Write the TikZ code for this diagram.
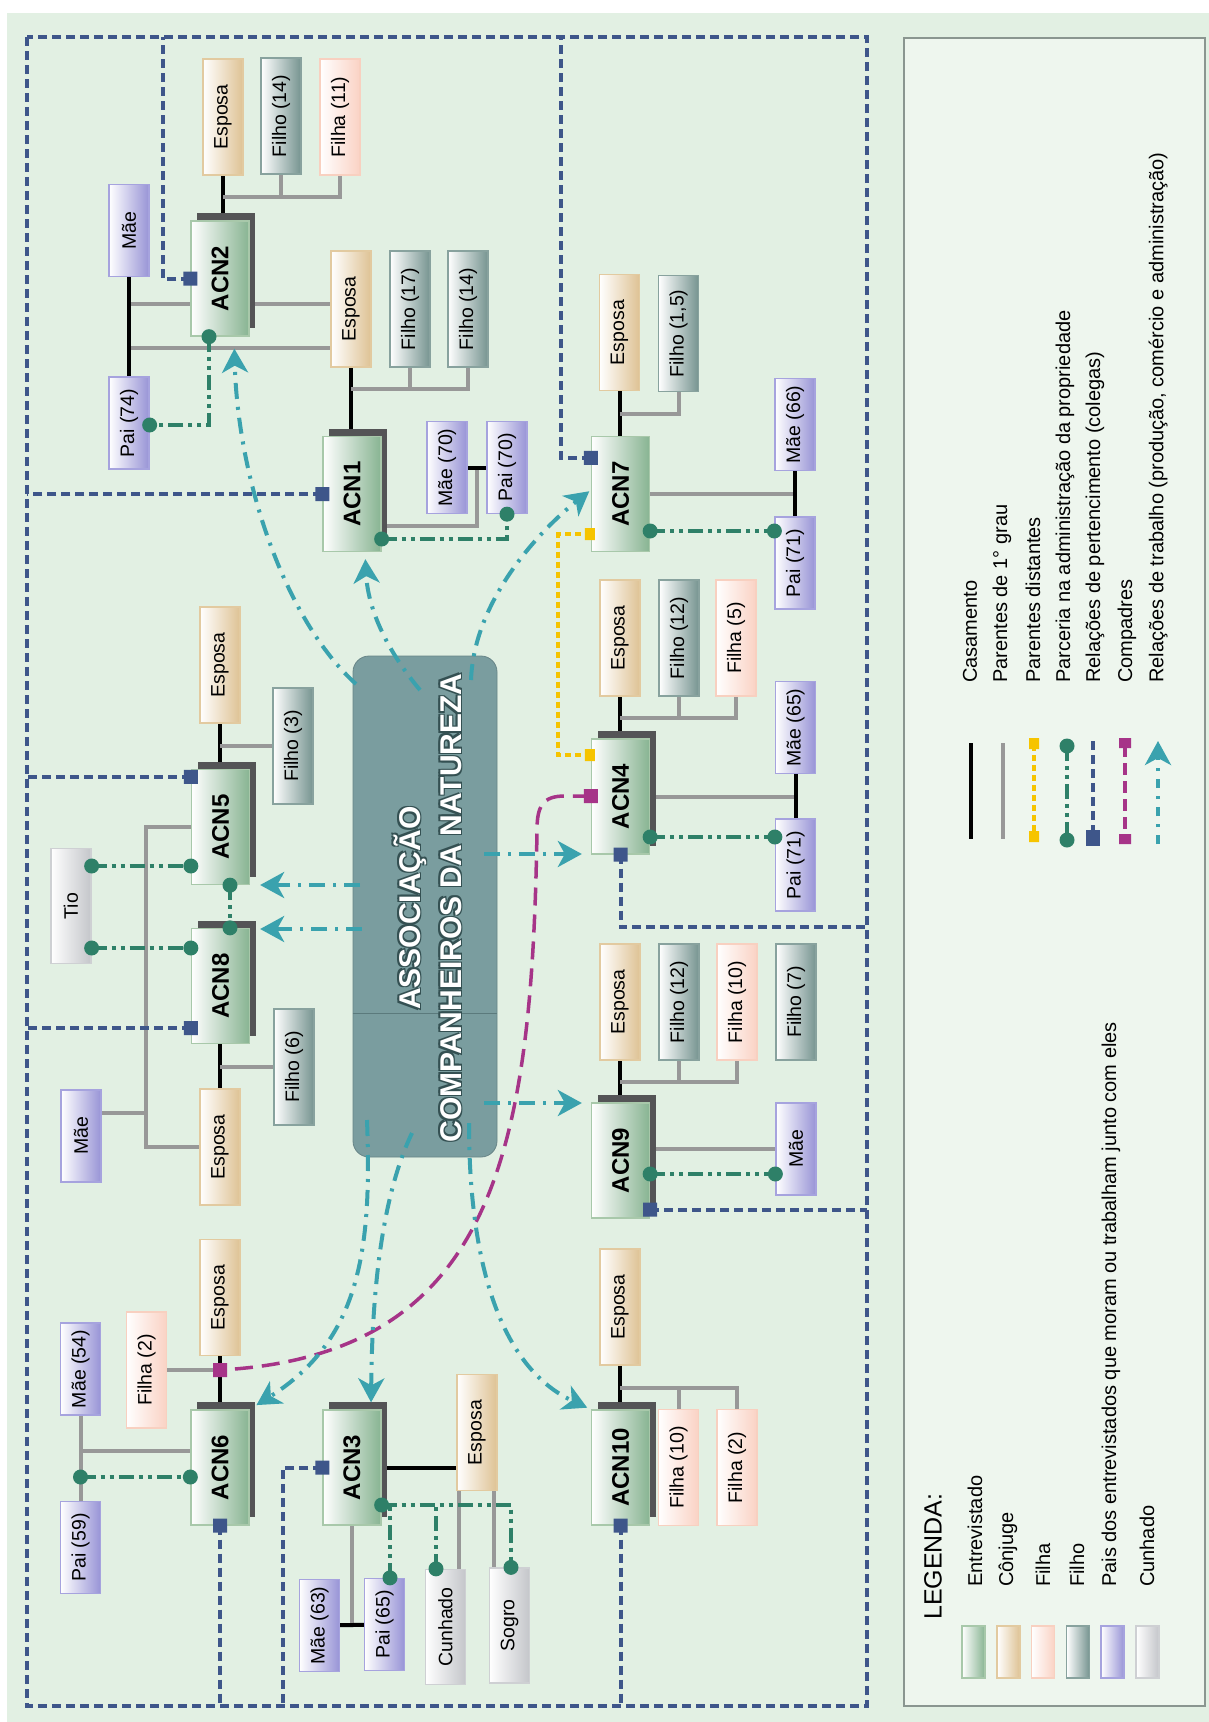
\documentclass[tikz,border=0pt]{standalone}
\usepackage{graphicx}
\usepackage{fontspec}
\setmainfont{Liberation Sans}
\usetikzlibrary{shadows,calc,arrows.meta}

\definecolor{cBg}{RGB}{226,240,227}
\definecolor{cLegBg}{RGB}{238,246,238}
\definecolor{cLegEdge}{RGB}{138,150,144}
\definecolor{cNavy}{RGB}{62,86,138}
\definecolor{cParc}{RGB}{46,128,104}
\definecolor{cWork}{RGB}{58,162,174}
\definecolor{cDist}{RGB}{246,196,0}
\definecolor{cComp}{RGB}{166,52,136}
\definecolor{cGrau}{RGB}{152,152,152}
\definecolor{cAssoc}{RGB}{122,157,159}
\definecolor{cAssocDark}{RGB}{52,80,82}
\definecolor{cShd}{RGB}{84,84,86}
\definecolor{cAcn}{RGB}{136,180,146}
\definecolor{cAcnE}{RGB}{168,200,170}
\definecolor{cConj}{RGB}{222,194,148}
\definecolor{cConjE}{RGB}{226,202,160}
\definecolor{cFilha}{RGB}{250,210,196}
\definecolor{cFilhaE}{RGB}{248,208,192}
\definecolor{cFilho}{RGB}{118,148,144}
\definecolor{cFilhoE}{RGB}{136,162,158}
\definecolor{cPais}{RGB}{152,148,214}
\definecolor{cPaisE}{RGB}{166,163,222}
\definecolor{cCunh}{RGB}{196,198,202}
\definecolor{cCunhE}{RGB}{206,208,211}

\pgfdeclarelayer{back}
\pgfdeclarelayer{lines}
\pgfsetlayers{back,lines,main}

\newcommand\vtext[1]{\rotatebox{90}{#1}}
\newcommand\assoclabel{ASSOCIAÇÃO\\COMPANHEIROS DA NATUREZA}

\tikzset{
  boxbase/.style={draw, line width=1.3pt, inner sep=0pt, minimum width=40pt,
    minimum height=116pt, font=\fontsize{19.5}{22}\selectfont},
  acnflat/.style={boxbase, minimum width=58pt, minimum height=115pt, left color=white,
    right color=cAcn, draw=cAcnE, font=\bfseries\fontsize{24}{28}\selectfont},
  acnbox/.style={acnflat, drop shadow={shadow xshift=6pt, shadow yshift=8pt, fill=cShd, opacity=1}},
  conjbox/.style={boxbase, left color=white, right color=cConj, draw=cConjE},
  filhabox/.style={boxbase, left color=white, right color=cFilha, draw=cFilhaE},
  filhobox/.style={boxbase, left color=white, right color=cFilho, draw=cFilhoE},
  paisbox/.style={boxbase, minimum height=92pt, left color=white, right color=cPais, draw=cPaisE},
  cunhbox/.style={boxbase, minimum height=115pt, left color=white, right color=cCunh, draw=cCunhE},
  swatch/.style={draw, line width=1.3pt, inner sep=0pt, minimum width=23pt, minimum height=52pt},
  legtext/.style={anchor=south, inner sep=0pt, font=\fontsize{20}{24}\selectfont},
  assocbox/.style={fill=cAssoc, draw=cAssoc!85!black, line width=0.8pt, rounded corners=16pt,
    minimum width=144pt, minimum height=501pt},
  assoctext/.style={rotate=90, align=center, inner sep=0pt, font=\bfseries\fontsize{30}{41}\selectfont},
  lcasam/.style={black, line width=4pt},
  lgrau/.style={cGrau, line width=4pt},
  ldist/.style={cDist, line width=4pt, dash pattern=on 6pt off 4pt},
  lparc/.style={cParc, line width=4pt, dash pattern=on 15pt off 5pt on 4pt off 5pt on 4pt off 5pt},
  lpert/.style={cNavy, line width=4pt, dash pattern=on 9pt off 5pt},
  lcomp/.style={cComp, line width=3.5pt, dash pattern=on 18pt off 9pt},
  ltrab/.style={cWork, line width=4pt, dash pattern=on 16pt off 8pt on 3pt off 8pt,
    -{Stealth[length=24pt,width=26pt,inset=7pt]}},
}

\begin{document}
\begin{tikzpicture}[x=1pt,y=-1pt]
  \useasboundingbox (0,0) rectangle (1209,1722);
  \def\dotr{7.5pt}
  \def\sqh{7pt}

% background and legend frame
  \begin{pgfonlayer}{back}
    \fill[cBg] (7,13) rectangle (1209,1722);
    \draw[fill=cLegBg, draw=cLegEdge, line width=2pt] (904,38) rectangle (1205,1706);
  \end{pgfonlayer}

% association in the middle
  \node[assocbox] (assoc) at (425,906.5) {};
  \draw[cAssocDark!45!cAssoc, line width=1pt] (assoc.west |- 0,1013) -- (assoc.east |- 0,1013);
  \node[assoctext, text=cAssocDark] (assocsa) at (429,909.5) {\assoclabel};
  \node[assoctext, text=cAssocDark] (assocsb) at (426,909.5) {\assoclabel};
  \node[assoctext, text=cAssocDark] (assocsc) at (429,906.5) {\assoclabel};
  \node[assoctext, text=cAssocDark] (assocsd) at (426,906.5) {\assoclabel};
  \node[assoctext, text=white] (assoctx) at (427.5,908) {\assoclabel};

% interviewees
  \node[acnbox] (acn2) at (220,278.5) {\vtext{ACN2}};
  \node[acnbox] (acn1) at (352,494) {\vtext{ACN1}};
  \node[acnflat] (acn7) at (620.5,494) {\vtext{ACN7}};
  \node[acnbox] (acn5) at (220.5,827) {\vtext{ACN5}};
  \node[acnbox] (acn8) at (220.5,986) {\vtext{ACN8}};
  \node[acnbox] (acn4) at (620.5,796.5) {\vtext{ACN4}};
  \node[acnbox] (acn9) at (620.5,1160.5) {\vtext{ACN9}};
  \node[acnbox] (acn6) at (220,1467.5) {\vtext{ACN6}};
  \node[acnbox] (acn3) at (352,1467.5) {\vtext{ACN3}};
  \node[acnbox] (acn10) at (620.5,1467.5) {\vtext{ACN10}};

% spouses
  \node[conjbox] (esp2) at (223,117) {\vtext{Esposa}};
  \node[conjbox] (esp1) at (351,309) {\vtext{Esposa}};
  \node[conjbox] (esp7) at (619.5,332.5) {\vtext{Esposa}};
  \node[conjbox] (esp5) at (220,665) {\vtext{Esposa}};
  \node[conjbox] (esp8) at (220,1147) {\vtext{Esposa}};
  \node[conjbox] (esp4) at (620,638) {\vtext{Esposa}};
  \node[conjbox] (esp9) at (620,1002) {\vtext{Esposa}};
  \node[conjbox] (esp6) at (220,1297.5) {\vtext{Esposa}};
  \node[conjbox] (esp3) at (477,1432.5) {\vtext{Esposa}};
  \node[conjbox] (esp10) at (620,1307) {\vtext{Esposa}};

% children
  \node[filhobox] (fho2) at (281,116) {\vtext{Filho (14)}};
  \node[filhabox] (fha2) at (340,117) {\vtext{Filha (11)}};
  \node[filhobox] (fho1a) at (410,309) {\vtext{Filho (17)}};
  \node[filhobox] (fho1b) at (468,309) {\vtext{Filho (14)}};
  \node[filhobox] (fho7) at (678.5,333.5) {\vtext{Filho (1,5)}};
  \node[filhobox] (fho5) at (293,746) {\vtext{Filho (3)}};
  \node[filhobox] (fho8) at (294,1067) {\vtext{Filho (6)}};
  \node[filhobox] (fho4) at (679,638) {\vtext{Filho (12)}};
  \node[filhabox] (fha4) at (736,638) {\vtext{Filha (5)}};
  \node[filhobox] (fho9a) at (679,1002) {\vtext{Filho (12)}};
  \node[filhabox] (fha9) at (737,1002) {\vtext{Filha (10)}};
  \node[filhobox] (fho9b) at (796,1002) {\vtext{Filho (7)}};
  \node[filhabox] (fha6) at (146.5,1370) {\vtext{Filha (2)}};
  \node[filhabox] (fha10a) at (678.5,1467.5) {\vtext{Filha (10)}};
  \node[filhabox] (fha10b) at (737,1467.5) {\vtext{Filha (2)}};

% parents
  \node[paisbox] (mae2) at (129,230.5) {\vtext{Mãe}};
  \node[paisbox] (pai2) at (129,423) {\vtext{Pai (74)}};
  \node[paisbox] (mae1) at (447,467.5) {\vtext{Mãe (70)}};
  \node[paisbox] (pai1) at (507,467.5) {\vtext{Pai (70)}};
  \node[paisbox] (mae7) at (795,424.5) {\vtext{Mãe (66)}};
  \node[paisbox] (pai7) at (795,563) {\vtext{Pai (71)}};
  \node[paisbox] (mae4) at (795.5,727.5) {\vtext{Mãe (65)}};
  \node[paisbox] (pai4) at (795.5,865) {\vtext{Pai (71)}};
  \node[paisbox] (mae8) at (81,1136) {\vtext{Mãe}};
  \node[paisbox] (mae9) at (796,1149) {\vtext{Mãe}};
  \node[paisbox] (mae6) at (80.5,1369) {\vtext{Mãe (54)}};
  \node[paisbox] (pai6) at (80.5,1547.5) {\vtext{Pai (59)}};
  \node[paisbox] (mae3) at (319.5,1625.5) {\vtext{Mãe (63)}};
  \node[paisbox] (pai3) at (384.5,1624.5) {\vtext{Pai (65)}};

% other relatives
  \node[cunhbox] (tio) at (71,906) {\vtext{Tio}};
  \node[cunhbox] (cun3) at (445.5,1627) {\vtext{Cunhado}};
  \node[cunhbox] (sog3) at (509.5,1625.5) {\vtext{Sogro}};

% free ends
  \coordinate (fnw) at (27,37);
  \coordinate (fse) at (867,1706);
  \coordinate (k58) at (146,1147);

% family lines (behind the boxes)
  \begin{pgfonlayer}{lines}
    \draw[lcasam] (esp2) -- (esp2 |- acn2);
    \draw[lgrau] (esp2 |- 0,197) -| (fha2);
    \draw[lgrau] (fho2) -- (fho2 |- 0,197);
    \draw[lgrau] (mae2 |- 0,304) -- (esp1 |- 0,304);
    \draw[lgrau] (mae2 |- 0,348) -- (esp1 |- 0,348);
    \draw[lcasam] (mae2) -- (pai2);

    \draw[lcasam] (esp1) -- (esp1 |- acn1);
    \draw[lgrau] (esp1 |- 0,389) -| (fho1b);
    \draw[lgrau] (fho1a) -- (fho1a |- 0,389);
    \draw[lgrau] (acn1 |- 0,526) -| ($(mae1)!.5!(pai1)$);
    \draw[lcasam] (mae1) -- (pai1);

    \draw[lcasam] (esp7) -- (esp7 |- acn7);
    \draw[lgrau] (esp7 |- 0,414) -| (fho7);
    \draw[lgrau] (acn7) -- (acn7 -| mae7);
    \draw[lcasam] (mae7) -- (pai7);

    \draw[lcasam] (esp4) -- (esp4 |- acn4);
    \draw[lgrau] (esp4 |- 0,718) -| (fha4);
    \draw[lgrau] (fho4) -- (fho4 |- 0,718);
    \draw[lgrau] (acn4) -- (acn4 -| mae4);
    \draw[lcasam] (mae4) -- (pai4);

    \draw[lcasam] (esp9) -- (esp9 |- acn9);
    \draw[lgrau] (esp9 |- 0,1082) -| (fha9);
    \draw[lgrau] (fho9a) -- (fho9a |- 0,1082);
    \draw[lgrau] (mae9) -- (mae9 -| acn9);

    \draw[lcasam] (esp5) -- (esp5 |- acn5);
    \draw[lgrau] (fho5) -- (fho5 -| esp5);
    \draw[lcasam] (esp8) -- (esp8 |- acn8);
    \draw[lgrau] (fho8) -- (fho8 -| esp8);
    \draw[lgrau] (acn5) -| (k58) -- (esp8);
    \draw[lgrau] (mae8.east |- 0,1113) -- (k58 |- 0,1113);

    \draw[lcasam] (esp6) -- (esp6 |- acn6);
    \draw[lgrau] (fha6) -- (fha6 -| esp6);
    \draw[lgrau] (mae6) -- (pai6);
    \draw[lgrau] (mae6 |- 0,1451) -- (acn6 |- 0,1451);

    \draw[lcasam] (acn3) -- (acn3 -| esp3);
    \draw[lgrau] (acn3) -- ($(mae3)!.5!(pai3)$);
    \draw[lcasam] (mae3) -- (pai3);
    \draw[lgrau] (esp3.south -| 459,0) -- (cun3.north -| 459,0);
    \draw[lgrau] (esp3.south -| 494,0) -- (sog3.north -| 494,0);

    \draw[lcasam] (esp10) -- (esp10 |- acn10);
    \draw[lgrau] (esp10 |- 0,1388) -| (fha10b);
    \draw[lgrau] (fha10a) -- (fha10a |- 0,1388);

  % belonging (colleagues)
    \draw[lpert] (fnw) rectangle (fse);
    \coordinate (s2) at (acn2.west);
    \coordinate (s1) at (acn1.west);
    \coordinate (s7) at ([yshift=-22pt]acn7.north west);
    \coordinate (s5) at ([yshift=-8pt]acn5.north west);
    \coordinate (s8) at ([yshift=16pt]acn8.south west);
    \coordinate (s4) at (acn4.south);
    \coordinate (s9) at ([yshift=9pt]acn9.south east);
    \coordinate (s6) at (acn6.south);
    \coordinate (s3) at (acn3.west);
    \coordinate (s10) at (acn10.south);
    \draw[lpert] (s2) -| (fnw -| 163,0);
    \draw[lpert] (s1) -- (s1 -| fnw);
    \draw[lpert] (s7) -| (fnw -| 561,0);
    \draw[lpert] (s5) -- (s5 -| fnw);
    \draw[lpert] (s8) -- (s8 -| fnw);
    \draw[lpert] (s4) |- (fse |- 0,927);
    \draw[lpert] (s9) -- (s9 -| fse);
    \draw[lpert] (s6) -- (s6 |- fse);
    \draw[lpert] (s3) -| (fse -| 283,0);
    \draw[lpert] (s10) -- (s10 |- fse);
  \end{pgfonlayer}

  \fill[cNavy] (s2) +(-\sqh,-\sqh) rectangle +(\sqh,\sqh)
               (s1) +(-\sqh,-\sqh) rectangle +(\sqh,\sqh)
               (s7) +(-\sqh,-\sqh) rectangle +(\sqh,\sqh)
               (s5) +(-\sqh,-\sqh) rectangle +(\sqh,\sqh)
               (s8) +(-\sqh,-\sqh) rectangle +(\sqh,\sqh)
               (s4) +(-\sqh,-\sqh) rectangle +(\sqh,\sqh)
               (s9) +(-\sqh,-\sqh) rectangle +(\sqh,\sqh)
               (s6) +(-\sqh,-\sqh) rectangle +(\sqh,\sqh)
               (s3) +(-\sqh,-\sqh) rectangle +(\sqh,\sqh)
               (s10) +(-\sqh,-\sqh) rectangle +(\sqh,\sqh);

% partnership in running the property
  \coordinate (g2a) at (acn2.south -| 209,0);
  \coordinate (g2b) at (pai2.east |- 0,425);
  \coordinate (g1a) at (acn1.east |- 0,539);
  \coordinate (g1b) at (pai1.south);
  \coordinate (g7a) at (acn7.east |- 0,531);
  \coordinate (g7b) at (pai7.west |- g7a);
  \coordinate (g4a) at (acn4.east |- 0,837);
  \coordinate (g4b) at (pai4.west |- g4a);
  \coordinate (g9a) at (acn9.east |- 0,1174);
  \coordinate (g9b) at (mae9.west |- g9a);
  \coordinate (g5a) at (tio.east |- 0,866);
  \coordinate (g5b) at (acn5.west |- g5a);
  \coordinate (g8a) at (tio.east |- 0,948);
  \coordinate (g8b) at (acn8.west |- g8a);
  \coordinate (g58a) at (acn5.south -| 230,0);
  \coordinate (g58b) at (acn8.north -| 230,0);
  \coordinate (g6a) at (mae6 |- 0,1477);
  \coordinate (g6b) at (acn6.west |- g6a);
  \coordinate (g3a) at (acn3.east |- 0,1505);
  \coordinate (g3b) at (pai3.north -| 390,0);
  \coordinate (g3c) at (cun3.north -| 436,0);
  \coordinate (g3d) at (sog3.north -| 511,0);
  \draw[lparc] (g2a) |- (g2b);
  \draw[lparc] (g1a) -| (g1b);
  \draw[lparc] (g7a) -- (g7b);
  \draw[lparc] (g4a) -- (g4b);
  \draw[lparc] (g9a) -- (g9b);
  \draw[lparc] (g5a) -- (g5b);
  \draw[lparc] (g8a) -- (g8b);
  \draw[lparc] (g58a) -- (g58b);
  \draw[lparc] (g6a) -- (g6b);
  \draw[lparc] (g3a) -| (g3d);
  \draw[lparc] (g3b) -- (g3b |- g3a);
  \draw[lparc] (g3c) -- (g3c |- g3a);
  \fill[cParc] (g2a) circle (\dotr) (g2b) circle (\dotr) (g1a) circle (\dotr) (g1b) circle (\dotr)
               (g7a) circle (\dotr) (g7b) circle (\dotr) (g4a) circle (\dotr) (g4b) circle (\dotr)
               (g9a) circle (\dotr) (g9b) circle (\dotr) (g5a) circle (\dotr) (g5b) circle (\dotr)
               (g8a) circle (\dotr) (g8b) circle (\dotr) (g58a) circle (\dotr) (g58b) circle (\dotr)
               (g6a) circle (\dotr) (g6b) circle (\dotr) (g3a) circle (\dotr) (g3b) circle (\dotr)
               (g3c) circle (\dotr) (g3d) circle (\dotr);

% distant relatives
  \coordinate (d7) at (acn7.west |- 0,534);
  \coordinate (d4) at (acn4.west |- 0,755);
  \draw[ldist] (d7) -| ($(d4)+(-32.5,0)$) -- (d4);
  \fill[cDist] (d7) +(-6pt,-6pt) rectangle +(4pt,6pt) (d4) +(-6pt,-6pt) rectangle +(4pt,6pt);

% compadres
  \coordinate (c4) at (acn4.west |- 0,796);
  \coordinate (c6) at (fha6 -| esp6);
  \draw[lcomp] (c4) -- ++(-26,0) .. controls +(-22,0) and (537,806) .. (537,830)
               .. controls (532,1150) and (495,1355) .. (c6);
  \fill[cComp] (c4) +(-\sqh,-\sqh) rectangle +(\sqh,\sqh) (c6) +(-\sqh,-\sqh) rectangle +(\sqh,\sqh);

% work relations from the association
  \coordinate (ws2) at (356,684);
  \coordinate (ws1) at (420,690);
  \coordinate (ws7) at (471,680);
  \coordinate (ws5) at (360,885);
  \coordinate (ws8) at (362,929);
  \coordinate (ws4) at (484,854);
  \coordinate (ws9) at (484,1103);
  \coordinate (ws6) at (367,1120);
  \coordinate (ws3) at (412,1133);
  \coordinate (ws10) at (469,1123);
  \draw[ltrab, shorten >=12pt] (ws2) .. controls (285,620) and (238,480) .. (acn2.south -| 234,0);
  \draw[ltrab, shorten >=7pt] (ws1) .. controls (388,652) and (368,610) .. (acn1.south -| 365,0);
  \draw[ltrab, shorten >=2pt] (ws7) .. controls (474,600) and (540,530) .. (acn7.west |- 0,490);
  \draw[ltrab, shorten >=10pt] (ws5) -- (acn5.east |- ws5);
  \draw[ltrab, shorten >=10pt] (ws8) -- (acn8.east |- ws8);
  \draw[ltrab, shorten >=9pt] (ws4) -- (acn4.west |- ws4);
  \draw[ltrab, shorten >=9pt] (ws9) -- (acn9.west |- ws9);
  \draw[ltrab, shorten >=8pt] (ws6) .. controls (372,1250) and (360,1340) .. (acn6.north east);
  \draw[ltrab, shorten >=7pt] (ws3) .. controls (380,1200) and (372,1300) .. (acn3.north -| 371,0);
  \draw[ltrab, shorten >=4pt] (ws10) .. controls (469,1250) and (495,1365) .. (acn10.north west);

% legend: line types
  \draw[lcasam] (971,743) -- (971,839);
  \draw[lgrau] (1003,743) -- (1003,839);
  \draw[ldist] (1034,745) -- (1034,837);
  \fill[cDist] (1029,738) rectangle (1039,749) (1029,831) rectangle (1039,842);
  \draw[lparc] (1067,746) -- (1067,840);
  \fill[cParc] (1067,746) circle (\dotr) (1067,840) circle (\dotr);
  \draw[lpert] (1093,741) -- (1093,830);
  \fill[cNavy] (1086,830) rectangle (1100,846);
  \draw[lcomp, dash pattern=on 12pt off 6pt] (1125,745) -- (1125,837);
  \fill[cComp] (1119,738) rectangle (1131,748) (1119,834) rectangle (1131,844);
  \draw[ltrab, dash pattern=on 9pt off 8pt on 3pt off 8pt] (1158,844) -- (1158,741);

  \node[legtext] (lt1) at (970,683) {\vtext{Casamento}};
  \node[legtext] (lt2) at (1002,683) {\vtext{Parentes de 1° grau}};
  \node[legtext] (lt3) at (1033,683) {\vtext{Parentes distantes}};
  \node[legtext] (lt4) at (1065,683) {\vtext{Parceria na administração da propriedade}};
  \node[legtext] (lt5) at (1095,683) {\vtext{Relações de pertencimento (colegas)}};
  \node[legtext] (lt6) at (1127,683) {\vtext{Compadres}};
  \node[legtext] (lt7) at (1158,683) {\vtext{Relações de trabalho (produção, comércio e administração)}};

% legend: box types
  \node[legtext, font=\fontsize{25}{28}\selectfont] (legtit) at (933,1620) {\vtext{LEGENDA:}};
  \node[swatch, left color=white, right color=cAcn, draw=cAcnE] (swa) at (973.5,1652) {};
  \node[swatch, left color=white, right color=cConj, draw=cConjE] (swb) at (1008.5,1652) {};
  \node[swatch, left color=white, right color=cFilha, draw=cFilhaE] (swc) at (1043,1652) {};
  \node[swatch, left color=white, right color=cFilho, draw=cFilhoE] (swd) at (1078,1652) {};
  \node[swatch, left color=white, right color=cPais, draw=cPaisE] (swe) at (1112.5,1652) {};
  \node[swatch, left color=white, right color=cCunh, draw=cCunhE] (swf) at (1147.5,1652) {};
  \node[legtext] (lta) at (975,1587) {\vtext{Entrevistado}};
  \node[legtext] (ltb) at (1008,1587) {\vtext{Cônjuge}};
  \node[legtext] (ltc) at (1043,1587) {\vtext{Filha}};
  \node[legtext] (ltd) at (1077,1587) {\vtext{Filho}};
  \node[legtext] (lte) at (1111,1587) {\vtext{Pais dos entrevistados que moram ou trabalham junto com eles}};
  \node[legtext] (ltf) at (1147,1587) {\vtext{Cunhado}};

\end{tikzpicture}
\end{document}
